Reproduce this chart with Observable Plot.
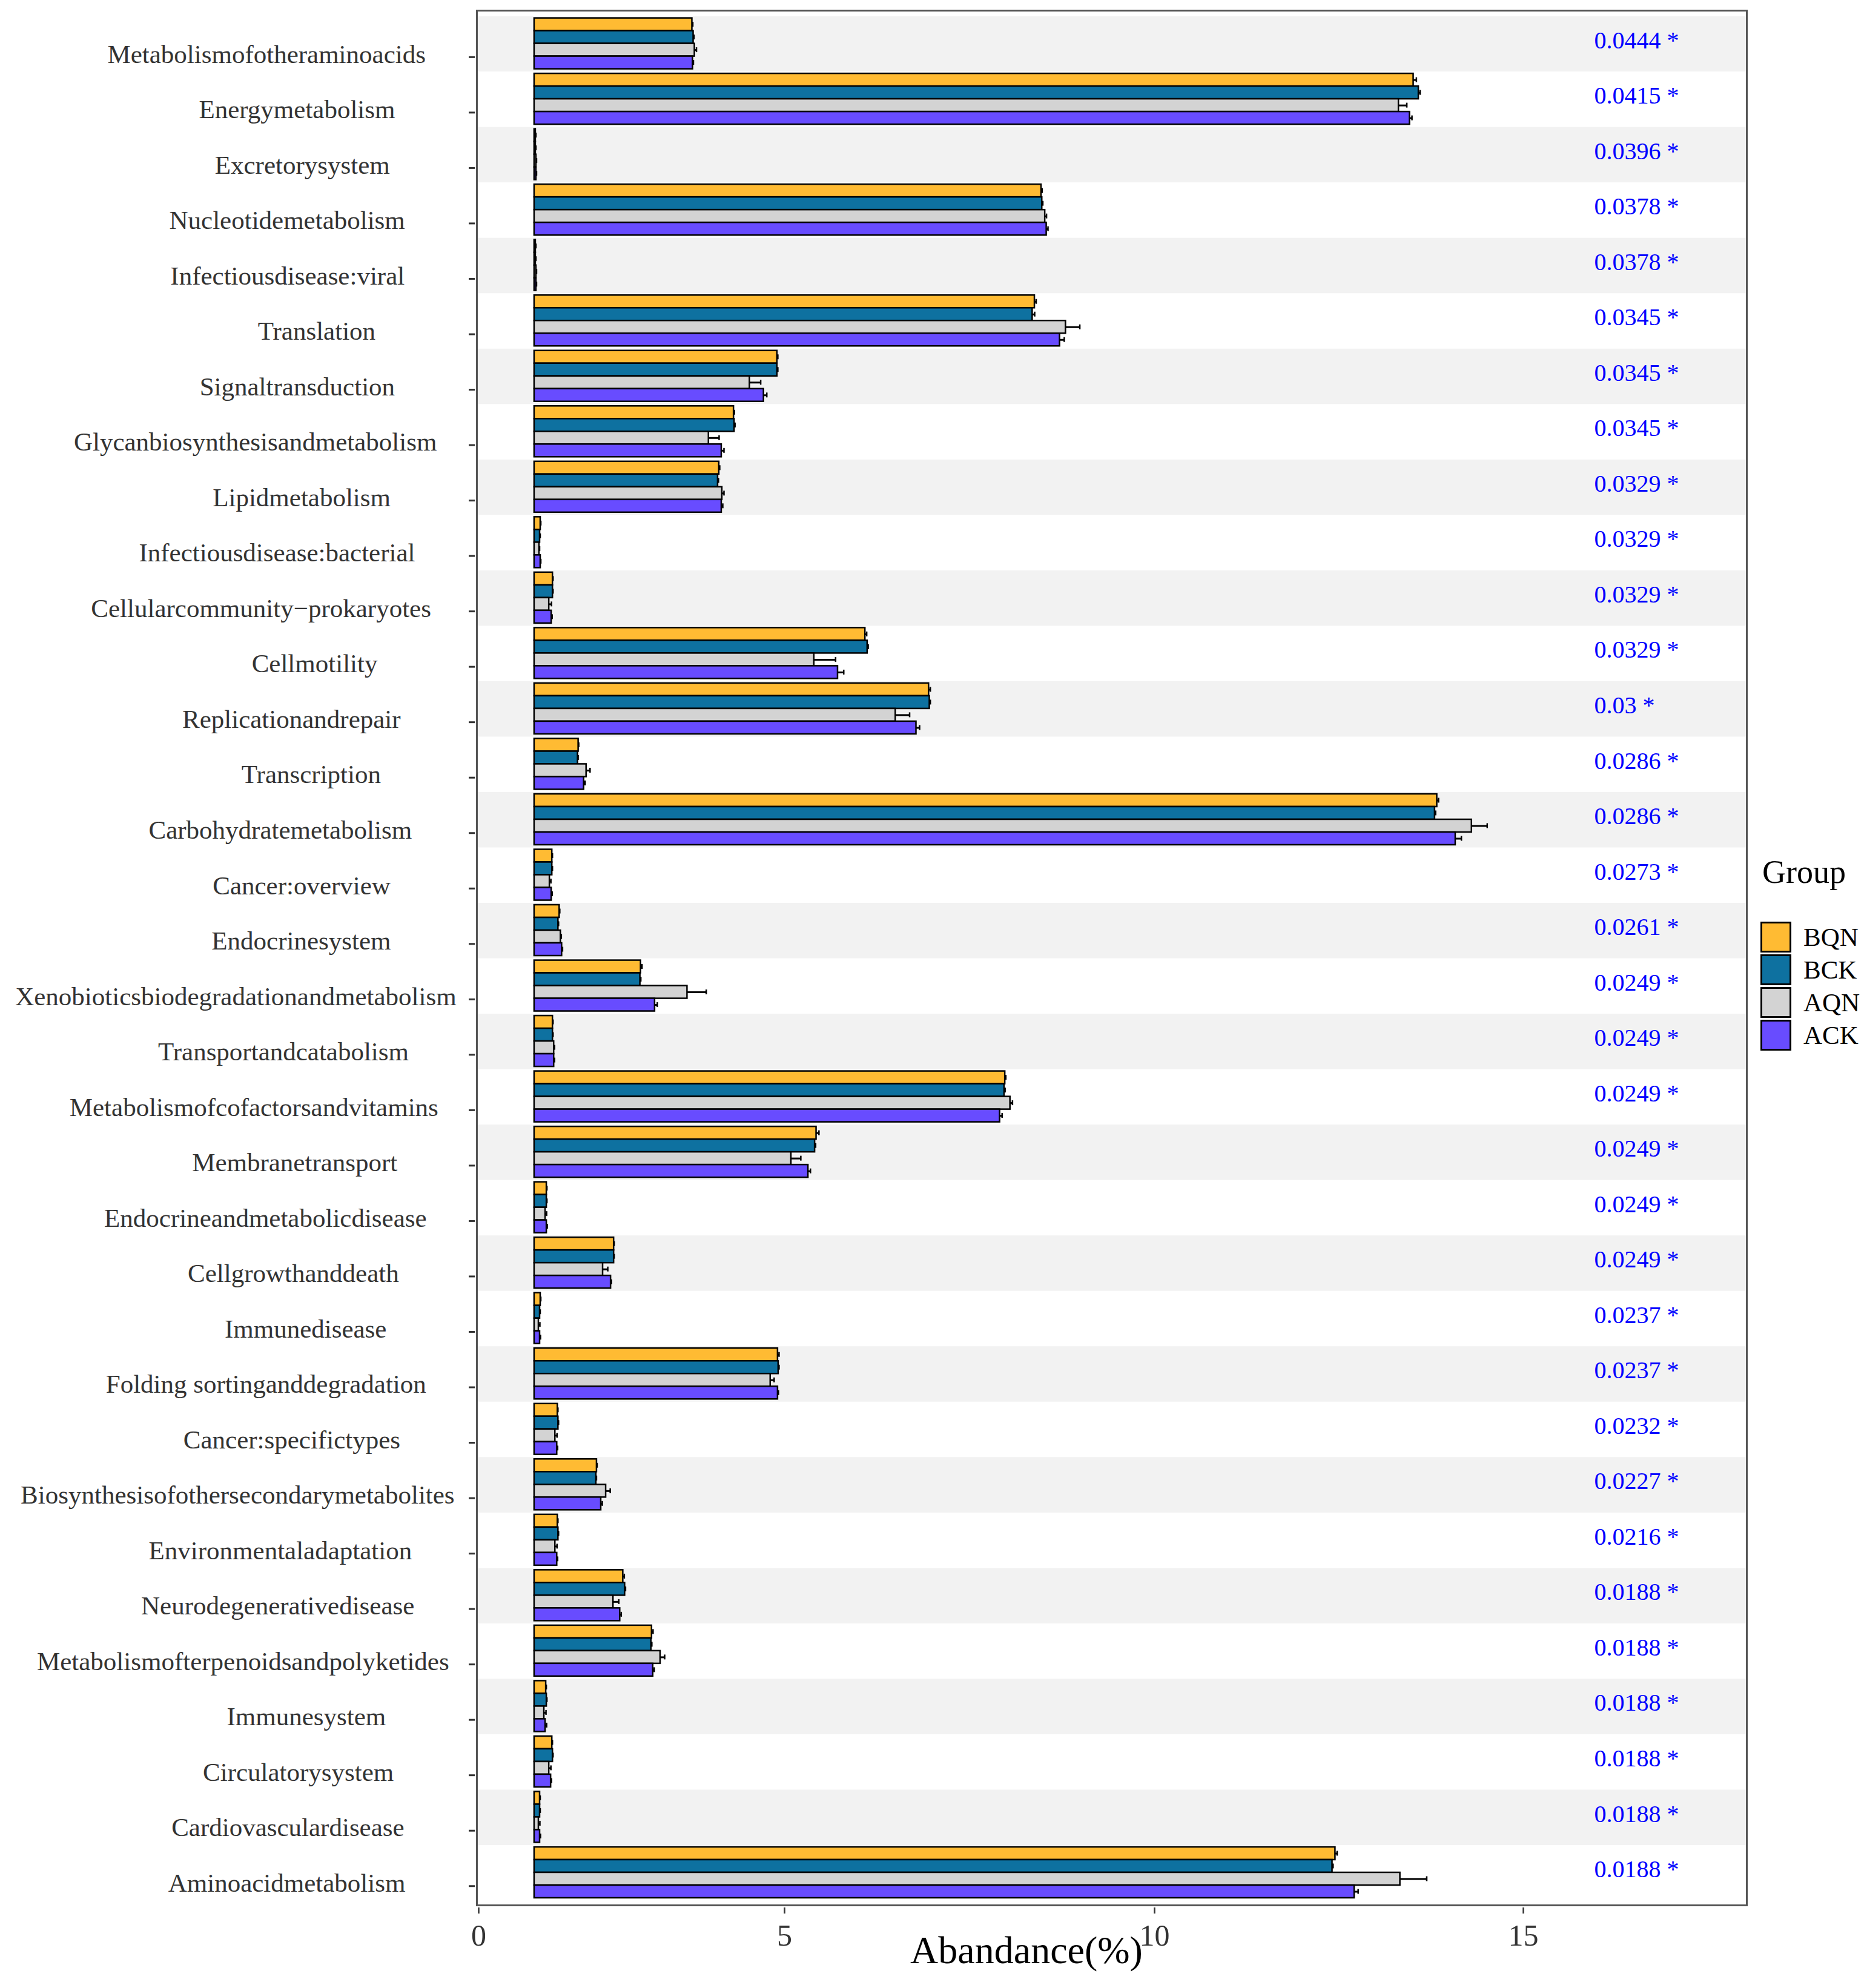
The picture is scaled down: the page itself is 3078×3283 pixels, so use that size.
<!DOCTYPE html>
<html><head><meta charset="utf-8">
<script src="https://cdn.jsdelivr.net/npm/d3@7"></script>
<script src="https://cdn.jsdelivr.net/npm/@observablehq/plot@0.6"></script>
<style>
html,body{margin:0;padding:0;background:#fff;}
#wrap{position:relative;width:3078px;height:3283px;font-family:"Liberation Serif","Times New Roman",serif;}
.legend-title{position:absolute;left:2910px;top:1413px;font-size:54px;line-height:1;color:#000;}
.sw{position:absolute;left:2907px;width:51px;height:51px;box-sizing:border-box;border:3px solid #000;}
.lab{position:absolute;left:2978px;height:51px;line-height:51px;font-size:43px;color:#000;}
</style></head><body><div id="wrap"></div>
<script>
// ---------- data ----------
const categories = [
  "Metabolismofotheraminoacids","Energymetabolism","Excretorysystem","Nucleotidemetabolism",
  "Infectiousdisease:viral","Translation","Signaltransduction","Glycanbiosynthesisandmetabolism",
  "Lipidmetabolism","Infectiousdisease:bacterial","Cellularcommunity\u2212prokaryotes","Cellmotility",
  "Replicationandrepair","Transcription","Carbohydratemetabolism","Cancer:overview",
  "Endocrinesystem","Xenobioticsbiodegradationandmetabolism","Transportandcatabolism","Metabolismofcofactorsandvitamins",
  "Membranetransport","Endocrineandmetabolicdisease","Cellgrowthanddeath","Immunedisease",
  "Folding sortinganddegradation","Cancer:specifictypes","Biosynthesisofothersecondarymetabolites","Environmentaladaptation",
  "Neurodegenerativedisease","Metabolismofterpenoidsandpolyketides","Immunesystem","Circulatorysystem",
  "Cardiovasculardisease","Aminoacidmetabolism"
];
const pValues = [0.0444,0.0415,0.0396,0.0378,0.0378,0.0345,0.0345,0.0345,0.0329,0.0329,0.0329,0.0329,0.03,0.0286,0.0286,0.0273,0.0261,0.0249,0.0249,0.0249,0.0249,0.0249,0.0249,0.0237,0.0237,0.0232,0.0227,0.0216,0.0188,0.0188,0.0188,0.0188,0.0188,0.0188];
const sigMark = "*";
const groups = ["BQN","BCK","AQN","ACK"];
const groupColors = ["#FFBB33","#0E71A0","#D3D3D3","#684CFF"];

// mean abundance (as read on the axis)
const bqnMean = [3.49,13.51,0.93,8.47,0.93,8.38,4.88,4.17,3.93,1.01,1.21,6.09,6.95,1.63,13.83,1.20,1.32,2.65,1.21,7.98,5.43,1.11,2.21,1.01,4.89,1.29,1.93,1.29,2.36,2.83,1.10,1.20,1.00,12.45];
const bckMean = [3.51,13.58,0.93,8.48,0.93,8.35,4.88,4.18,3.91,1.00,1.21,6.12,6.96,1.62,13.80,1.20,1.30,2.64,1.21,7.97,5.41,1.11,2.21,1.00,4.90,1.30,1.92,1.30,2.39,2.82,1.11,1.21,1.00,12.41];
const aqnMean = [3.53,13.31,0.94,8.52,0.94,8.80,4.43,3.76,3.98,0.99,1.15,5.40,6.50,1.76,14.30,1.16,1.34,3.41,1.23,8.05,5.09,1.09,2.03,0.98,4.77,1.25,2.08,1.25,2.20,2.97,1.07,1.15,0.98,13.33];
const ackMean = [3.50,13.46,0.94,8.54,0.94,8.72,4.66,3.97,3.97,1.01,1.19,5.72,6.78,1.72,14.08,1.19,1.36,2.88,1.23,7.91,5.32,1.11,2.16,1.00,4.89,1.28,2.00,1.28,2.31,2.85,1.09,1.18,1.00,12.71];
// error (upper) half-widths
const bqnSd = [0.01,0.04,0.005,0.01,0.005,0.02,0.01,0.01,0.01,0.005,0.005,0.02,0.02,0.005,0.02,0.005,0.005,0.02,0.005,0.01,0.035,0.005,0.005,0.005,0.02,0.005,0.005,0.005,0.02,0.02,0.005,0.005,0.005,0.025];
const bckSd = [0.01,0.02,0.005,0.01,0.005,0.03,0.01,0.01,0.01,0.005,0.005,0.01,0.01,0.005,0.01,0.005,0.005,0.01,0.005,0.01,0.01,0.005,0.005,0.005,0.01,0.005,0.005,0.005,0.01,0.01,0.005,0.005,0.005,0.01];
const aqnSd = [0.03,0.11,0.005,0.02,0.005,0.19,0.18,0.17,0.03,0.005,0.04,0.29,0.19,0.06,0.21,0.02,0.01,0.31,0.01,0.03,0.13,0.02,0.08,0.02,0.06,0.03,0.07,0.03,0.09,0.07,0.03,0.03,0.02,0.36];
const ackSd = [0.01,0.03,0.005,0.02,0.005,0.06,0.05,0.04,0.02,0.005,0.01,0.08,0.045,0.02,0.08,0.01,0.01,0.04,0.01,0.03,0.03,0.01,0.01,0.01,0.01,0.01,0.02,0.01,0.02,0.02,0.02,0.01,0.01,0.05];
const barBase = 0.91;            // value where the bars start on the axis
const xTicks = [0,5,10,15];
const xTitle = "Abandance(%)";
const legendTitle = "Group";

// ---------- tables ----------
const meanBy = {BQN: bqnMean, BCK: bckMean, AQN: aqnMean, ACK: ackMean};
const sdBy = {BQN: bqnSd, BCK: bckSd, AQN: aqnSd, ACK: ackSd};
const rows = categories.flatMap((c, i) => groups.map(g => ({category: c, group: g, mean: meanBy[g][i], sd: sdBy[g][i]})));
const stripes = categories.filter((c, i) => i % 2 === 0).map(c => ({category: c}));
const pTable = categories.map((c, i) => ({category: c, label: `${pValues[i]} ${sigMark}`}));

// ---------- layout ----------
const W = 3078, H = 3283;
const mL = 787, mR = 194, mT = 17, mB = 137;
const insT = 9.6, insB = 7.5;
const step = (H - mT - mB - insT - insB) / categories.length;
const xPixels = [790, 1295, 1906, 2515];
const barPad = 3, barH = 21;

const barMarks = groups.flatMap((g, j) => {
  const data = rows.filter(d => d.group === g);
  const top = barPad + barH * j;
  const centerOff = top + barH / 2 - step / 2;
  return [
    Plot.barX(data, {
      y: "category", x1: () => barBase, x2: "mean",
      insetTop: top, insetBottom: step - top - barH,
      fill: groupColors[j], stroke: "#000", strokeWidth: 2.5
    }),
    Plot.ruleY(data, {
      y: "category", x1: "mean", x2: d => d.mean + d.sd, dy: centerOff,
      stroke: "#000", strokeWidth: 3
    }),
    Plot.tickX(data, {
      y: "category", x: d => d.mean + d.sd,
      insetTop: top + barH / 2 - 4, insetBottom: step - (top + barH / 2 + 4),
      stroke: "#000", strokeWidth: 2.5
    })
  ];
});

const plot = Plot.plot({
  width: W, height: H,
  marginLeft: mL, marginRight: mR, marginTop: mT, marginBottom: mB,
  style: {fontFamily: "Liberation Serif, Times New Roman, serif", background: "transparent", color: "#333"},
  x: {type: "linear", domain: xTicks, range: xPixels},
  y: {type: "band", domain: categories, padding: 0, insetTop: insT, insetBottom: insB, round: false},
  marks: [
    Plot.cell(stripes, {y: "category", fill: "#F2F2F2"}),
    ...barMarks,
    Plot.text(pTable, {
      y: "category", text: "label", frameAnchor: "right", textAnchor: "start",
      dx: -252, dy: -6, fill: "#0000FF", fontSize: 40
    }),
    Plot.frame({stroke: "#555", strokeWidth: 3}),
    // y axis: ticks and labels
    Plot.axisY({tickSize: 10, fill: "none", stroke: "#333", strokeWidth: 3, dy: 21.5, dx: -3}),
    Plot.axisY({tickSize: 0, tickPadding: 216, dy: 17, fontSize: 43, fill: "#333", textAnchor: "end", label: null}),
    // x axis
    Plot.axisX({ticks: xTicks, tickSize: 10, fill: "none", stroke: "#333", strokeWidth: 2.5, dy: 4}),
    Plot.axisX({ticks: xTicks, tickSize: 0, tickPadding: 30.5, fontSize: 50, fill: "#333", label: null}),
    Plot.text([xTitle], {text: d => d, frameAnchor: "bottom", dx: -141, dy: 95, fontSize: 64, fill: "#000"})
  ]
});

const wrap = document.getElementById("wrap");
wrap.appendChild(plot);

// emulate ggplot-like partial justification of the category labels
plot.querySelectorAll('g[aria-label="y-axis tick label"] text').forEach(t => {
  const w = t.getComputedTextLength();
  t.setAttribute("dx", (0.25 * w).toFixed(1));
});

// legend
const lt = document.createElement("div");
lt.className = "legend-title"; lt.textContent = legendTitle; wrap.appendChild(lt);
groups.forEach((g, j) => {
  const top = 1522 + 54 * j;
  const sw = document.createElement("div");
  sw.className = "sw"; sw.style.top = top + "px"; sw.style.background = groupColors[j];
  wrap.appendChild(sw);
  const lab = document.createElement("div");
  lab.className = "lab"; lab.style.top = top + "px"; lab.textContent = g;
  wrap.appendChild(lab);
});
</script></body></html>
